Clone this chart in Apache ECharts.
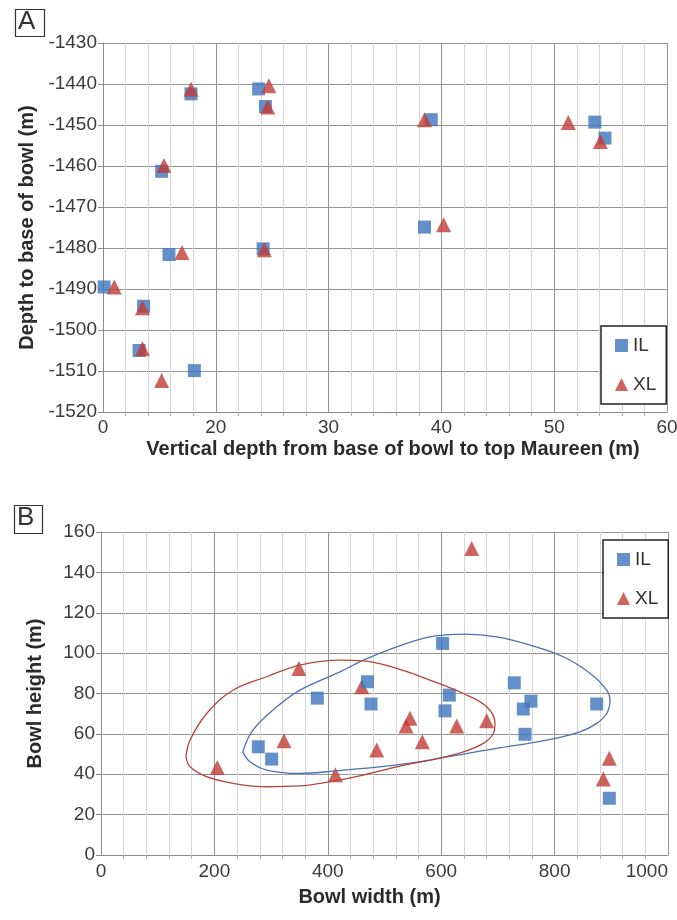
<!DOCTYPE html>
<html>
<head>
<meta charset="utf-8">
<script src="https://cdn.jsdelivr.net/npm/echarts@6/dist/echarts.min.js"></script>
<style>
html,body{margin:0;padding:0;background:#fff;}
#chart{width:677px;height:920px;}
</style>
</head>
<body>
<div id="chart"></div>
<script>
// ---- Panel A data: [vertical depth (m), depth to base of bowl (m)] ----
const panelA_IL = [
  [17.8,-1442.4],[23.8,-1441.2],[24.4,-1445.5],[15.2,-1461.3],[39.1,-1448.7],
  [53.6,-1449.3],[54.5,-1453.2],[15.85,-1481.6],[24.2,-1480.2],[10.1,-1489.5],
  [13.6,-1494.2],[13.2,-1505.0],[18.1,-1509.9],[38.5,-1474.9]
];
const panelA_XL = [
  [17.8,-1441.3],[24.7,-1440.4],[24.6,-1445.6],[15.4,-1459.9],[38.5,-1448.7],
  [51.25,-1449.4],[54.1,-1454.0],[17.0,-1481.1],[24.3,-1480.4],[11.0,-1489.5],
  [13.5,-1494.6],[13.5,-1504.6],[15.2,-1512.3],[40.2,-1474.3]
];
// x tick labels as printed on panel A (first tick printed as "0")
const panelA_xTickLabels = {10:'0',20:'20',30:'30',40:'40',50:'50',60:'60'};

// ---- Panel B data: [bowl width (m), bowl height (m)] ----
const panelB_IL = [
  [381.5,77.7],[602.5,104.8],[470,85.8],[728.9,85.3],[614.3,79.2],[476.2,74.8],
  [606.7,71.4],[744.8,72.3],[758.3,76.2],[747.8,59.8],[874.2,74.8],[896.5,28.1],
  [277.4,53.6],[301,47.5]
];
const panelB_XL = [
  [349,92.4],[653.8,151.8],[459.8,83.3],[545,67.7],[538,63.9],[627.3,63.9],
  [680.2,66.5],[566.7,56.1],[486.2,52.0],[413.5,39.8],[896.5,47.9],[885.9,37.6],
  [322.8,56.6],[205.1,43.4]
];
// ellipse outlines
const ellipseIL = [
  [250,51.1],[268,61.9],[310,73.4],[351,81.7],[421.5,90.7],[462.6,96.5],[521.5,103.1],
  [580.2,108.1],[642,109.4],[697.9,108.1],[756.6,104],[815.3,98.2],[862.4,90],
  [891.9,81.7],[897.7,76.5],[891.9,70.1],[874.3,65.2],[844.8,61],[786,56.9],
  [697.9,52.8],[639,50],[580.2,47],[521.5,44.6],[462.6,42.9],[414.5,41.7],
  [351,40.4],[292.2,42.1],[262.8,46.2],[250,51.1]
];
const ellipseXL = [
  [149.9,48.7],[157,56.9],[186.4,70.1],[233.3,81.7],[292.2,88.3],[351,94.1],
  [421.5,96.5],[462.6,96.2],[521.5,92.4],[580.2,86.6],[639,80],[680.2,73.4],
  [694.9,65.2],[691.9,60.2],[674.3,55.3],[639,51.1],[580.2,47],[521.5,43.7],
  [462.6,39.6],[403.9,36.3],[351,34.2],[292.2,33.8],[233.3,35.5],[186.4,38.8],
  [157,43.7],[149.9,48.7]
];

const BLUE = '#3d74bd', RED = '#c23b33';
const FONT = 'Liberation Sans, Arial, sans-serif';
const tickTxt = {fontFamily: FONT, fontSize: 19, color: '#3a3a3a'};
const nameTxt = {fontFamily: FONT, fontSize: 20, fontWeight: 'bold', color: '#2a2a2a'};
const majorLine = {show: true, lineStyle: {color: '#959595', width: 1}};
const minorLine = {show: true, lineStyle: {color: '#d6d6d6', width: 1}};
const axLine = {show: true, lineStyle: {color: '#8a8a8a', width: 1}};
const plain = v => String(v);

const chart = echarts.init(document.getElementById('chart'), null, {renderer: 'canvas'});
chart.setOption({
  animation: false,
  backgroundColor: '#fff',
  grid: [
    {left: 103, top: 43, width: 564, height: 369, containLabel: false, outerBoundsMode: 'none'},
    {left: 101, top: 532, width: 567, height: 323, containLabel: false, outerBoundsMode: 'none'}
  ],
  xAxis: [
    {gridIndex: 0, type: 'value', min: 10, max: 60, interval: 10,
     axisLine: axLine, axisTick: {show: false},
     minorTick: {show: true, splitNumber: 5, length: 4, lineStyle: {color: '#aaa'}},
     splitLine: majorLine, minorSplitLine: minorLine,
     axisLabel: Object.assign({margin: 6, formatter: v => panelA_xTickLabels[v]}, tickTxt),
     name: 'Vertical depth from base of bowl to top Maureen (m)', nameLocation: 'middle',
     nameGap: 27, nameTextStyle: Object.assign({padding: [0, 0, 0, 16]}, nameTxt)},
    {gridIndex: 1, type: 'value', min: 0, max: 1000, interval: 200,
     axisLine: axLine, axisTick: {show: false},
     minorTick: {show: true, splitNumber: 5, length: 4, lineStyle: {color: '#aaa'}},
     splitLine: majorLine, minorSplitLine: minorLine,
     axisLabel: Object.assign({margin: 7, formatter: plain, alignMaxLabel: 'right'}, tickTxt),
     name: 'Bowl width (m)', nameLocation: 'middle', nameGap: 32,
     nameTextStyle: Object.assign({padding: [0, 30, 0, 0]}, nameTxt)}
  ],
  yAxis: [
    {gridIndex: 0, type: 'value', min: -1520, max: -1430, interval: 10,
     axisLine: axLine, axisTick: {show: true, length: 5, lineStyle: {color: '#8a8a8a'}},
     splitLine: majorLine,
     axisLabel: Object.assign({margin: 6, formatter: plain}, tickTxt),
     name: 'Depth to base of bowl (m)', nameLocation: 'middle', nameRotate: 90,
     nameGap: 55, nameTextStyle: nameTxt},
    {gridIndex: 1, type: 'value', min: 0, max: 160, interval: 20,
     axisLine: axLine, axisTick: {show: true, length: 5, lineStyle: {color: '#8a8a8a'}},
     splitLine: majorLine,
     axisLabel: Object.assign({margin: 6, formatter: plain}, tickTxt),
     name: 'Bowl height (m)', nameLocation: 'middle', nameRotate: 90,
     nameGap: 56, nameTextStyle: nameTxt}
  ],
  legend: [
    {orient: 'vertical', left: 601, top: 326, itemGap: 20, itemWidth: 13, itemHeight: 13,
     padding: [10, 10, 10, 14], backgroundColor: '#fff', borderColor: '#222', borderWidth: 1.5,
     borderRadius: 0, textStyle: {fontFamily: FONT, fontSize: 19, color: '#333'},
     data: [{name: 'IL', icon: 'rect'}, {name: 'XL', icon: 'triangle'}]},
    {orient: 'vertical', left: 603, top: 540, itemGap: 20, itemWidth: 13, itemHeight: 13,
     padding: [10, 10, 10, 14], backgroundColor: '#fff', borderColor: '#222', borderWidth: 1.5,
     borderRadius: 0, textStyle: {fontFamily: FONT, fontSize: 19, color: '#333'},
     data: [{name: 'IL', icon: 'rect'}, {name: 'XL', icon: 'triangle'}]}
  ],
  graphic: [
    {type: 'rect', left: 13, top: 7, shape: {width: 29, height: 27},
     style: {fill: 'none', stroke: '#333', lineWidth: 1.2}},
    {type: 'text', left: 18, top: 9, style: {text: 'A', font: '26px ' + FONT, fill: '#333'}},
    {type: 'rect', left: 12, top: 503, shape: {width: 28, height: 28},
     style: {fill: 'none', stroke: '#333', lineWidth: 1.2}},
    {type: 'text', left: 17, top: 505, style: {text: 'B', font: '26px ' + FONT, fill: '#333'}}
  ],
  series: [
    {name: 'IL', type: 'scatter', xAxisIndex: 0, yAxisIndex: 0, data: panelA_IL,
     symbol: 'rect', symbolSize: 13, itemStyle: {color: BLUE}},
    {name: 'XL', type: 'scatter', xAxisIndex: 0, yAxisIndex: 0, data: panelA_XL,
     symbol: 'triangle', symbolSize: 15, itemStyle: {color: RED}},
    {name: 'IL ellipse', type: 'line', xAxisIndex: 1, yAxisIndex: 1, data: ellipseIL,
     smooth: 0.4, showSymbol: false, silent: true, lineStyle: {color: '#4a72b4', width: 1.3}},
    {name: 'XL ellipse', type: 'line', xAxisIndex: 1, yAxisIndex: 1, data: ellipseXL,
     smooth: 0.4, showSymbol: false, silent: true, lineStyle: {color: '#b8453c', width: 1.3}},
    {name: 'XL', type: 'scatter', xAxisIndex: 1, yAxisIndex: 1, data: panelB_XL,
     symbol: 'triangle', symbolSize: 15, itemStyle: {color: RED}},
    {name: 'IL', type: 'scatter', xAxisIndex: 1, yAxisIndex: 1, data: panelB_IL,
     symbol: 'rect', symbolSize: 13, itemStyle: {color: BLUE}}
  ]
});
</script>
</body>
</html>
